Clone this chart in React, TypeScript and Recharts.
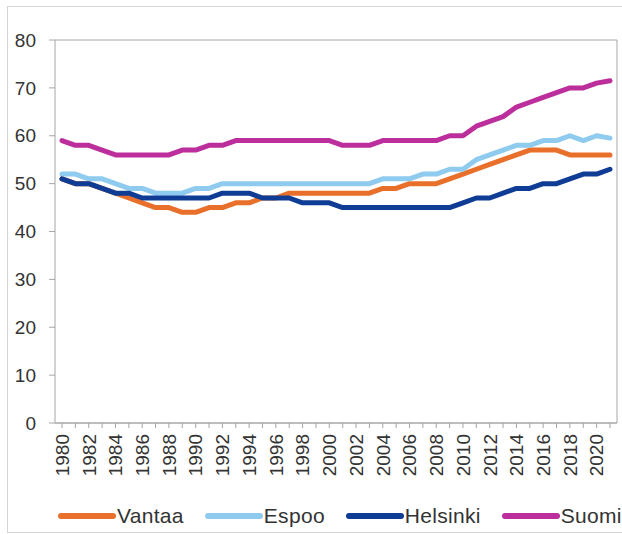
import React from "react";
import { LineChart, Line, XAxis, YAxis, CartesianGrid, Legend } from "recharts";

const years: string[] = [];
for (let y = 1980; y <= 2021; y++) years.push(String(y));

const vantaa = [51, 50, 50, 49, 48, 47, 46, 45, 45, 44, 44, 45, 45, 46, 46, 47, 47, 48, 48, 48, 48, 48, 48, 48, 49, 49, 50, 50, 50, 51, 52, 53, 54, 55, 56, 57, 57, 57, 56, 56, 56, 56];
const espoo = [52, 52, 51, 51, 50, 49, 49, 48, 48, 48, 49, 49, 50, 50, 50, 50, 50, 50, 50, 50, 50, 50, 50, 50, 51, 51, 51, 52, 52, 53, 53, 55, 56, 57, 58, 58, 59, 59, 60, 59, 60, 59.5];
const helsinki = [51, 50, 50, 49, 48, 48, 47, 47, 47, 47, 47, 47, 48, 48, 48, 47, 47, 47, 46, 46, 46, 45, 45, 45, 45, 45, 45, 45, 45, 45, 46, 47, 47, 48, 49, 49, 50, 50, 51, 52, 52, 53];
const suomi = [59, 58, 58, 57, 56, 56, 56, 56, 56, 57, 57, 58, 58, 59, 59, 59, 59, 59, 59, 59, 59, 58, 58, 58, 59, 59, 59, 59, 59, 60, 60, 62, 63, 64, 66, 67, 68, 69, 70, 70, 71, 71.5];
const yTicks = [0, 10, 20, 30, 40, 50, 60, 70, 80];

const seriesNames = ["Vantaa", "Espoo", "Helsinki", "Suomi"];
const seriesColors = ["#E8702A", "#8FCBEE", "#0F3C94", "#BC2E9B"];
const seriesValues = [vantaa, espoo, helsinki, suomi];

const data = years.map((yr, i) => {
  const row: any = { year: yr };
  seriesNames.forEach((n, k) => (row[n] = seriesValues[k][i]));
  return row;
});

const FONT = '"Liberation Sans", Arial, sans-serif';
const TEXT = "#333333";
const GRID = "#a6a6a6";

const XTick = (props: any) => {
  const { x, y, payload } = props;
  const yr = Number(payload.value);
  if (yr % 2 !== 0) return null;
  return (
    <text
      x={x}
      y={y}
      transform={`rotate(-90, ${x}, ${y})`}
      textAnchor="end"
      dy="0.36em"
      fontSize={19}
      fontFamily={FONT}
      fill={TEXT}
    >
      {payload.value}
    </text>
  );
};

const LegendContent = () => (
  <div
    style={{
      display: "flex",
      alignItems: "center",
      paddingLeft: 58,
      height: 30,
      fontFamily: FONT,
      fontSize: 21,
      color: TEXT,
    }}
  >
    {seriesNames.map((n, k) => (
      <div key={n} style={{ display: "flex", alignItems: "center", marginRight: 21 }}>
        <svg width={58} height={10} style={{ display: "block" }}>
          <line x1={3} y1={5} x2={55} y2={5} stroke={seriesColors[k]} strokeWidth={6} strokeLinecap="round" />
        </svg>
        <span style={{ marginLeft: 1, letterSpacing: 0.3 }}>{n}</span>
      </div>
    ))}
  </div>
);

export default function App() {
  return (
    <div style={{ position: "absolute", left: 0, top: 0, width: 622, height: 534, background: "#fff" }}>
      <div
        style={{
          position: "absolute",
          left: 7,
          top: 6,
          width: 630,
          height: 525,
          border: "1px solid #d4d4d4",
        }}
      />
      <div style={{ position: "absolute", left: 0, top: 0 }}>
        <LineChart
          width={622}
          height={534}
          data={data}
          margin={{ top: 40, right: 0, left: 0, bottom: 3 }}
        >
          <CartesianGrid vertical={false} stroke={GRID} strokeWidth={1} />
          <XAxis
            dataKey="year"
            interval={0}
            padding={{ left: 7, right: 7 }}
            tick={<XTick />}
            tickSize={5}
            tickMargin={6}
            height={78}
            axisLine={{ stroke: GRID }}
            tickLine={{ stroke: GRID }}
          />
          <YAxis
            yAxisId="left"
            domain={[0, 80]}
            ticks={yTicks}
            width={55}
            tickSize={6}
            tickMargin={13}
            axisLine={{ stroke: GRID }}
            tickLine={{ stroke: GRID }}
            tick={{ fontSize: 19, fontFamily: FONT, fill: TEXT }}
          />
          <YAxis
            yAxisId="right"
            orientation="right"
            domain={[0, 80]}
            width={5}
            tick={false}
            tickLine={false}
            axisLine={{ stroke: GRID }}
          />
          <Legend verticalAlign="bottom" align="left" content={<LegendContent />} wrapperStyle={{ height: 30 }} />
          {seriesNames.map((n, k) => (
            <Line
              key={n}
              yAxisId="left"
              type="linear"
              dataKey={n}
              stroke={seriesColors[k]}
              strokeWidth={5}
              dot={false}
              strokeLinecap="round"
              strokeLinejoin="round"
              isAnimationActive={false}
            />
          ))}
        </LineChart>
      </div>
    </div>
  );
}
